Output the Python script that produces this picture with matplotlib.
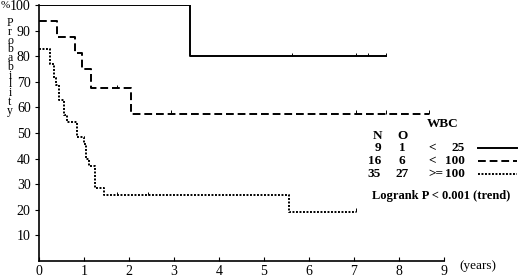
import numpy as np
import matplotlib
matplotlib.use("Agg")
import matplotlib.pyplot as plt

plt.rcParams['font.family'] = ['Liberation Serif', 'DejaVu Serif']

# survival step curves (time in years, % probability)
t_lo = [0, 3.35, 7.72]
s_lo = [100, 80, 80]
cens_lo_t = [0.18, 0.91, 2.57, 3.24, 5.63, 7.05, 7.32, 7.72]
cens_lo_s = [100, 100, 100, 100, 80, 80, 80, 80]

t_mid = [0, 0.4, 0.8, 0.95, 1.15, 2.05, 8.67]
s_mid = [93.75, 87.5, 81.25, 75.0, 67.4, 57.5, 57.5]
cens_mid_t = [1.73, 2.93, 7.05, 7.72, 8.67]
cens_mid_s = [67.4, 57.5, 57.5, 57.5, 57.5]

t_hi = [0, 0.25, 0.33, 0.38, 0.45, 0.55, 0.63, 0.85, 1.0, 1.05, 1.1, 1.25, 1.45, 5.55, 7.05]
s_hi = [82.9, 77.1, 71.4, 68.6, 62.9, 57.1, 54.3, 48.6, 45.7, 40.0, 37.1, 28.6, 25.7, 19.3, 19.3]
cens_hi_t = [1.73, 2.42, 7.05]
cens_hi_s = [25.7, 25.7, 19.3]

n_pat = ['9', '16', '35']
n_obs = ['1', '6', '27']
wbc = [('<', '25'), ('<', '100'), ('>=', '100')]
styles = ['-', (0, (4, 2)), (0, (1, 0.8))]

xticks = list(range(0, 10))
yticks = list(range(10, 101, 10))

fig = plt.figure(figsize=(5.2, 2.8), dpi=100)
ax = fig.add_axes([0.075, 0.068, 0.779, 0.914])

lw = 1.4
ax.step(t_lo, s_lo, where='post', color='black', lw=lw, linestyle=styles[0])
ax.step(t_mid, s_mid, where='post', color='black', lw=lw, linestyle=styles[1])
ax.step(t_hi, s_hi, where='post', color='black', lw=lw, linestyle=styles[2])
for ct, cs in [(cens_lo_t, cens_lo_s), (cens_mid_t, cens_mid_s), (cens_hi_t, cens_hi_s)]:
    ax.vlines(ct, np.array(cs), np.array(cs) + 1.3, color='black', lw=0.7)

ax.set_xlim(0, 9)
ax.set_ylim(0, 100)
ax.spines['top'].set_visible(False)
ax.spines['right'].set_visible(False)
ax.spines['left'].set_linewidth(1.2)
ax.spines['bottom'].set_linewidth(1.2)
ax.set_xticks(xticks)
ax.set_yticks(yticks)
ax.tick_params(axis='x', direction='in', length=3, labelsize=10, pad=3)
ax.tick_params(axis='y', direction='out', length=3, labelsize=10, pad=3)

fig.text(478 / 520, 1 - 266 / 280, '(years)', ha='center', va='center', fontsize=9.5)
fig.text(1 / 520, 1 - 6 / 280, '%', ha='left', va='center', fontsize=8)
fig.text(10 / 520, 1 - 17 / 280, '\n'.join('Probability'), ha='center', va='top',
         fontsize=8.5, linespacing=0.64)

# legend table
def px(x, y):
    return x / 520, 1 - y / 280

bold = dict(fontsize=9.5, fontweight='bold', va='center')
fig.text(*px(427, 124), 'WBC', ha='left', **bold)
fig.text(*px(377, 136), 'N', ha='center', **bold)
fig.text(*px(402, 136), 'O', ha='center', **bold)
rows_y = [148, 161, 174]
for i, y in enumerate(rows_y):
    fig.text(*px(381, y), n_pat[i], ha='right', **bold)
    fig.text(*px(402, y), n_obs[i], ha='center', **bold)
    fig.text(*px(428, y), wbc[i][0], ha='left', **bold)
    fig.text(*px(465, y), wbc[i][1], ha='right', **bold)
    fig.add_artist(plt.Line2D([478 / 520, 517 / 520], [1 - y / 280, 1 - y / 280],
                              color='black', lw=lw, linestyle=styles[i]))
fig.text(*px(372, 196), 'Logrank P < 0.001 (trend)', ha='left',
         fontsize=9, fontweight='bold', va='center')

fig.savefig('out.png', dpi=100)
